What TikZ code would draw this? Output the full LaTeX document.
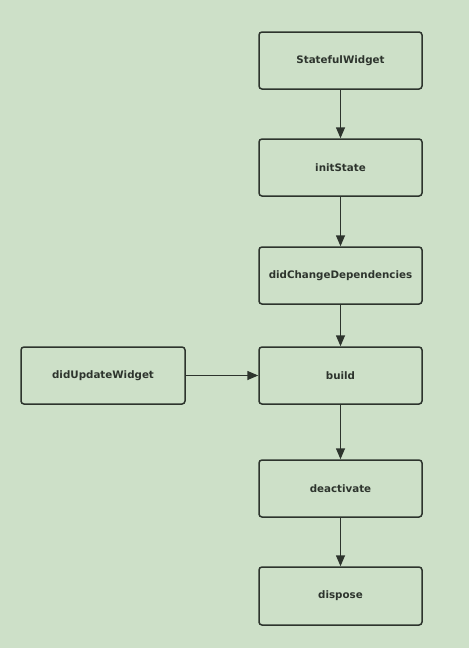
\documentclass[tikz,border=0pt]{standalone}
\usepackage{fontspec}
\setmainfont{DejaVu Sans}
\usetikzlibrary{arrows.meta}
\definecolor{bg}{RGB}{205,224,200}
\definecolor{ink}{RGB}{45,52,45}
\begin{document}
\begin{tikzpicture}[x=1pt,y=-1pt,
  box/.style={draw=ink,line width=1.5pt,rounded corners=3pt,fill=bg,minimum width=163pt,minimum height=57pt,inner sep=0pt,font=\bfseries\fontsize{10.3}{12}\selectfont,text=ink},
  arr/.style={draw=ink,line width=1.5pt,-{Triangle[length=11pt,width=9pt]}}]
\fill[bg] (0,0) rectangle (469,648);
\useasboundingbox (0,0) rectangle (469,648);
\node[box] (sw) at (340.5,60.5) {StatefulWidget};
\node[box] (is) at (340.5,167.5) {initState};
\node[box] (dcd) at (340.5,275.5) {didChangeDependencies};
\node[box] (b) at (340.5,375.5) {build};
\node[box,minimum width=164pt] (duw) at (103,375.5) {didUpdateWidget};
\node[box] (d) at (340.5,488.5) {deactivate};
\node[box,minimum height=58pt] (dp) at (340.5,596) {dispose};
\draw[arr] (sw) -- (is);
\draw[arr] (is) -- (dcd);
\draw[arr] (dcd) -- (b);
\draw[arr] (duw) -- (b);
\draw[arr] (b) -- (d);
\draw[arr] (d) -- (dp);
\end{tikzpicture}
\end{document}
